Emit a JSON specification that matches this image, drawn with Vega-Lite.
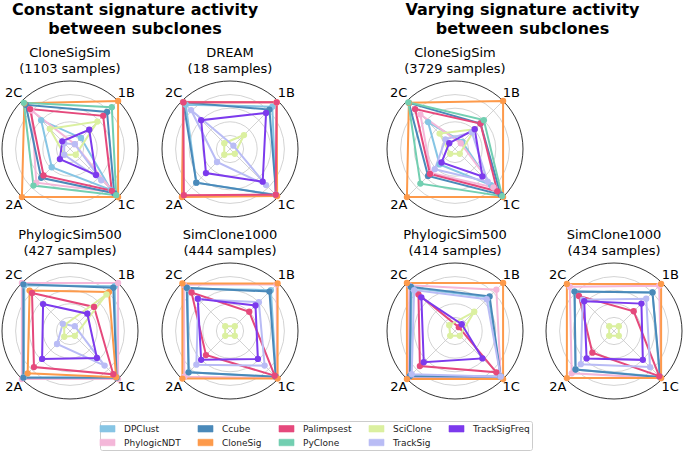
{
"$schema":"https://vega.github.io/schema/vega-lite/v6.json",
"background":"white",
"padding":{"left":0,"top":2,"right":0,"bottom":0},
"config":{"view":{"stroke":null},"font":"DejaVu Sans",
 "title":{"font":"DejaVu Sans","fontSize":13,"fontWeight":"normal","color":"#000000","anchor":"middle","lineHeight":16,"offset":3}},
"datasets":{
"rings":[{"r":0.2},{"r":0.4},{"r":0.6},{"r":0.8},{"r":1}],
"axes":[{"axis":"2C"},{"axis":"1B"},{"axis":"1C"},{"axis":"2A"}],
"scores":[
{"panel":"A","method":"DPClust","axis":"2C","v":0.60},{"panel":"A","method":"DPClust","axis":"1B","v":0.23},{"panel":"A","method":"DPClust","axis":"1C","v":0.85},{"panel":"A","method":"DPClust","axis":"2A","v":0.38},
{"panel":"A","method":"PhylogicNDT","axis":"2C","v":0.80},{"panel":"A","method":"PhylogicNDT","axis":"1B","v":0.10},{"panel":"A","method":"PhylogicNDT","axis":"1C","v":0.90},{"panel":"A","method":"PhylogicNDT","axis":"2A","v":0.70},
{"panel":"A","method":"Ccube","axis":"2C","v":0.92},{"panel":"A","method":"Ccube","axis":"1B","v":0.77},{"panel":"A","method":"Ccube","axis":"1C","v":0.92},{"panel":"A","method":"Ccube","axis":"2A","v":0.60},
{"panel":"A","method":"CloneSig","axis":"2C","v":0.95},{"panel":"A","method":"CloneSig","axis":"1B","v":1.0},{"panel":"A","method":"CloneSig","axis":"1C","v":1.0},{"panel":"A","method":"CloneSig","axis":"2A","v":1.0},
{"panel":"A","method":"Palimpsest","axis":"2C","v":0.83},{"panel":"A","method":"Palimpsest","axis":"1B","v":0.69},{"panel":"A","method":"Palimpsest","axis":"1C","v":0.87},{"panel":"A","method":"Palimpsest","axis":"2A","v":0.55},
{"panel":"A","method":"PyClone","axis":"2C","v":0.96},{"panel":"A","method":"PyClone","axis":"1B","v":0.87},{"panel":"A","method":"PyClone","axis":"1C","v":0.96},{"panel":"A","method":"PyClone","axis":"2A","v":0.76},
{"panel":"A","method":"SciClone","axis":"2C","v":0.42},{"panel":"A","method":"SciClone","axis":"1B","v":0.57},{"panel":"A","method":"SciClone","axis":"1C","v":0.12},{"panel":"A","method":"SciClone","axis":"2A","v":0.12},
{"panel":"A","method":"TrackSig","axis":"2C","v":0.12},{"panel":"A","method":"TrackSig","axis":"1B","v":0.10},{"panel":"A","method":"TrackSig","axis":"1C","v":0.65},{"panel":"A","method":"TrackSig","axis":"2A","v":0.12},
{"panel":"A","method":"TrackSigFreq","axis":"2C","v":0.16},{"panel":"A","method":"TrackSigFreq","axis":"1B","v":0.40},{"panel":"A","method":"TrackSigFreq","axis":"1C","v":0.54},{"panel":"A","method":"TrackSigFreq","axis":"2A","v":0.21},
{"panel":"B","method":"DPClust","axis":"2C","v":0.92},{"panel":"B","method":"DPClust","axis":"1B","v":0.88},{"panel":"B","method":"DPClust","axis":"1C","v":0.95},{"panel":"B","method":"DPClust","axis":"2A","v":0.70},
{"panel":"B","method":"PhylogicNDT","axis":"2C","v":0.98},{"panel":"B","method":"PhylogicNDT","axis":"1B","v":0.97},{"panel":"B","method":"PhylogicNDT","axis":"1C","v":0.97},{"panel":"B","method":"PhylogicNDT","axis":"2A","v":0.99},
{"panel":"B","method":"Ccube","axis":"2C","v":0.97},{"panel":"B","method":"Ccube","axis":"1B","v":0.82},{"panel":"B","method":"Ccube","axis":"1C","v":0.96},{"panel":"B","method":"Ccube","axis":"2A","v":0.70},
{"panel":"B","method":"CloneSig","axis":"2C","v":0.97},{"panel":"B","method":"CloneSig","axis":"1B","v":0.97},{"panel":"B","method":"CloneSig","axis":"1C","v":0.98},{"panel":"B","method":"CloneSig","axis":"2A","v":1.0},
{"panel":"B","method":"Palimpsest","axis":"2C","v":0.97},{"panel":"B","method":"Palimpsest","axis":"1B","v":0.97},{"panel":"B","method":"Palimpsest","axis":"1C","v":0.95},{"panel":"B","method":"Palimpsest","axis":"2A","v":0.96},
{"panel":"B","method":"SciClone","axis":"2C","v":0.12},{"panel":"B","method":"SciClone","axis":"1B","v":0.29},{"panel":"B","method":"SciClone","axis":"1C","v":0.10},{"panel":"B","method":"SciClone","axis":"2A","v":0.12},
{"panel":"B","method":"TrackSig","axis":"2C","v":0.81},{"panel":"B","method":"TrackSig","axis":"1B","v":0.07},{"panel":"B","method":"TrackSig","axis":"1C","v":0.75},{"panel":"B","method":"TrackSig","axis":"2A","v":0.27},
{"panel":"B","method":"TrackSigFreq","axis":"2C","v":0.60},{"panel":"B","method":"TrackSigFreq","axis":"1B","v":0.75},{"panel":"B","method":"TrackSigFreq","axis":"1C","v":0.68},{"panel":"B","method":"TrackSigFreq","axis":"2A","v":0.50},
{"panel":"C","method":"DPClust","axis":"2C","v":0.95},{"panel":"C","method":"DPClust","axis":"1B","v":0.93},{"panel":"C","method":"DPClust","axis":"1C","v":0.97},{"panel":"C","method":"DPClust","axis":"2A","v":0.96},
{"panel":"C","method":"PhylogicNDT","axis":"2C","v":1.0},{"panel":"C","method":"PhylogicNDT","axis":"1B","v":1.0},{"panel":"C","method":"PhylogicNDT","axis":"1C","v":1.0},{"panel":"C","method":"PhylogicNDT","axis":"2A","v":1.0},
{"panel":"C","method":"Ccube","axis":"2C","v":0.97},{"panel":"C","method":"Ccube","axis":"1B","v":0.90},{"panel":"C","method":"Ccube","axis":"1C","v":0.97},{"panel":"C","method":"Ccube","axis":"2A","v":0.97},
{"panel":"C","method":"CloneSig","axis":"2C","v":0.84},{"panel":"C","method":"CloneSig","axis":"1B","v":0.81},{"panel":"C","method":"CloneSig","axis":"1C","v":0.96},{"panel":"C","method":"CloneSig","axis":"2A","v":0.88},
{"panel":"C","method":"Palimpsest","axis":"2C","v":0.79},{"panel":"C","method":"Palimpsest","axis":"1B","v":0.50},{"panel":"C","method":"Palimpsest","axis":"1C","v":0.90},{"panel":"C","method":"Palimpsest","axis":"2A","v":0.75},
{"panel":"C","method":"SciClone","axis":"2C","v":0.12},{"panel":"C","method":"SciClone","axis":"1B","v":0.76},{"panel":"C","method":"SciClone","axis":"1C","v":0.10},{"panel":"C","method":"SciClone","axis":"2A","v":0.12},
{"panel":"C","method":"TrackSig","axis":"2C","v":0.15},{"panel":"C","method":"TrackSig","axis":"1B","v":0.10},{"panel":"C","method":"TrackSig","axis":"1C","v":0.72},{"panel":"C","method":"TrackSig","axis":"2A","v":0.27},
{"panel":"C","method":"TrackSigFreq","axis":"2C","v":0.56},{"panel":"C","method":"TrackSigFreq","axis":"1B","v":0.36},{"panel":"C","method":"TrackSigFreq","axis":"1C","v":0.56},{"panel":"C","method":"TrackSigFreq","axis":"2A","v":0.58},
{"panel":"D","method":"DPClust","axis":"2C","v":0.88},{"panel":"D","method":"DPClust","axis":"1B","v":0.85},{"panel":"D","method":"DPClust","axis":"1C","v":0.96},{"panel":"D","method":"DPClust","axis":"2A","v":0.86},
{"panel":"D","method":"PhylogicNDT","axis":"2C","v":0.96},{"panel":"D","method":"PhylogicNDT","axis":"1B","v":0.97},{"panel":"D","method":"PhylogicNDT","axis":"1C","v":0.98},{"panel":"D","method":"PhylogicNDT","axis":"2A","v":0.95},
{"panel":"D","method":"Ccube","axis":"2C","v":0.90},{"panel":"D","method":"Ccube","axis":"1B","v":0.82},{"panel":"D","method":"Ccube","axis":"1C","v":0.95},{"panel":"D","method":"Ccube","axis":"2A","v":0.86},
{"panel":"D","method":"CloneSig","axis":"2C","v":0.99},{"panel":"D","method":"CloneSig","axis":"1B","v":0.99},{"panel":"D","method":"CloneSig","axis":"1C","v":0.99},{"panel":"D","method":"CloneSig","axis":"2A","v":0.99},
{"panel":"D","method":"Palimpsest","axis":"2C","v":0.80},{"panel":"D","method":"Palimpsest","axis":"1B","v":0.40},{"panel":"D","method":"Palimpsest","axis":"1C","v":0.93},{"panel":"D","method":"Palimpsest","axis":"2A","v":0.50},
{"panel":"D","method":"SciClone","axis":"2C","v":0.10},{"panel":"D","method":"SciClone","axis":"1B","v":0.10},{"panel":"D","method":"SciClone","axis":"1C","v":0.10},{"panel":"D","method":"SciClone","axis":"2A","v":0.10},
{"panel":"D","method":"TrackSig","axis":"2C","v":0.66},{"panel":"D","method":"TrackSig","axis":"1B","v":0.60},{"panel":"D","method":"TrackSig","axis":"1C","v":0.72},{"panel":"D","method":"TrackSig","axis":"2A","v":0.70},
{"panel":"D","method":"TrackSigFreq","axis":"2C","v":0.67},{"panel":"D","method":"TrackSigFreq","axis":"1B","v":0.53},{"panel":"D","method":"TrackSigFreq","axis":"1C","v":0.58},{"panel":"D","method":"TrackSigFreq","axis":"2A","v":0.60},
{"panel":"E","method":"DPClust","axis":"2C","v":0.56},{"panel":"E","method":"DPClust","axis":"1B","v":0.15},{"panel":"E","method":"DPClust","axis":"1C","v":0.75},{"panel":"E","method":"DPClust","axis":"2A","v":0.32},
{"panel":"E","method":"PhylogicNDT","axis":"2C","v":0.72},{"panel":"E","method":"PhylogicNDT","axis":"1B","v":0.12},{"panel":"E","method":"PhylogicNDT","axis":"1C","v":0.80},{"panel":"E","method":"PhylogicNDT","axis":"2A","v":0.50},
{"panel":"E","method":"Ccube","axis":"2C","v":0.96},{"panel":"E","method":"Ccube","axis":"1B","v":0.53},{"panel":"E","method":"Ccube","axis":"1C","v":0.95},{"panel":"E","method":"Ccube","axis":"2A","v":0.56},
{"panel":"E","method":"CloneSig","axis":"2C","v":0.96},{"panel":"E","method":"CloneSig","axis":"1B","v":1.0},{"panel":"E","method":"CloneSig","axis":"1C","v":1.0},{"panel":"E","method":"CloneSig","axis":"2A","v":1.0},
{"panel":"E","method":"Palimpsest","axis":"2C","v":0.83},{"panel":"E","method":"Palimpsest","axis":"1B","v":0.53},{"panel":"E","method":"Palimpsest","axis":"1C","v":0.88},{"panel":"E","method":"Palimpsest","axis":"2A","v":0.52},
{"panel":"E","method":"PyClone","axis":"2C","v":0.97},{"panel":"E","method":"PyClone","axis":"1B","v":0.60},{"panel":"E","method":"PyClone","axis":"1C","v":0.98},{"panel":"E","method":"PyClone","axis":"2A","v":0.72},
{"panel":"E","method":"SciClone","axis":"2C","v":0.32},{"panel":"E","method":"SciClone","axis":"1B","v":0.41},{"panel":"E","method":"SciClone","axis":"1C","v":0.10},{"panel":"E","method":"SciClone","axis":"2A","v":0.10},
{"panel":"E","method":"TrackSig","axis":"2C","v":0.20},{"panel":"E","method":"TrackSig","axis":"1B","v":0.35},{"panel":"E","method":"TrackSig","axis":"1C","v":0.68},{"panel":"E","method":"TrackSig","axis":"2A","v":0.42},
{"panel":"E","method":"TrackSigFreq","axis":"2C","v":0.12},{"panel":"E","method":"TrackSigFreq","axis":"1B","v":0.41},{"panel":"E","method":"TrackSigFreq","axis":"1C","v":0.57},{"panel":"E","method":"TrackSigFreq","axis":"2A","v":0.28},
{"panel":"F","method":"DPClust","axis":"2C","v":0.90},{"panel":"F","method":"DPClust","axis":"1B","v":0.70},{"panel":"F","method":"DPClust","axis":"1C","v":0.95},{"panel":"F","method":"DPClust","axis":"2A","v":0.93},
{"panel":"F","method":"PhylogicNDT","axis":"2C","v":0.95},{"panel":"F","method":"PhylogicNDT","axis":"1B","v":0.86},{"panel":"F","method":"PhylogicNDT","axis":"1C","v":0.95},{"panel":"F","method":"PhylogicNDT","axis":"2A","v":0.97},
{"panel":"F","method":"Ccube","axis":"2C","v":0.92},{"panel":"F","method":"Ccube","axis":"1B","v":0.72},{"panel":"F","method":"Ccube","axis":"1C","v":0.95},{"panel":"F","method":"Ccube","axis":"2A","v":0.94},
{"panel":"F","method":"CloneSig","axis":"2C","v":1.0},{"panel":"F","method":"CloneSig","axis":"1B","v":1.0},{"panel":"F","method":"CloneSig","axis":"1C","v":1.0},{"panel":"F","method":"CloneSig","axis":"2A","v":1.0},
{"panel":"F","method":"Palimpsest","axis":"2C","v":0.76},{"panel":"F","method":"Palimpsest","axis":"1B","v":0.08},{"panel":"F","method":"Palimpsest","axis":"1C","v":0.86},{"panel":"F","method":"Palimpsest","axis":"2A","v":0.73},
{"panel":"F","method":"SciClone","axis":"2C","v":0.12},{"panel":"F","method":"SciClone","axis":"1B","v":0.40},{"panel":"F","method":"SciClone","axis":"1C","v":0.10},{"panel":"F","method":"SciClone","axis":"2A","v":0.10},
{"panel":"F","method":"TrackSig","axis":"2C","v":0.85},{"panel":"F","method":"TrackSig","axis":"1B","v":0.66},{"panel":"F","method":"TrackSig","axis":"1C","v":0.95},{"panel":"F","method":"TrackSig","axis":"2A","v":0.90},
{"panel":"F","method":"TrackSigFreq","axis":"2C","v":0.70},{"panel":"F","method":"TrackSigFreq","axis":"1B","v":0.14},{"panel":"F","method":"TrackSigFreq","axis":"1C","v":0.57},{"panel":"F","method":"TrackSigFreq","axis":"2A","v":0.65},
{"panel":"G","method":"DPClust","axis":"2C","v":0.82},{"panel":"G","method":"DPClust","axis":"1B","v":0.80},{"panel":"G","method":"DPClust","axis":"1C","v":0.95},{"panel":"G","method":"DPClust","axis":"2A","v":0.80},
{"panel":"G","method":"PhylogicNDT","axis":"2C","v":0.92},{"panel":"G","method":"PhylogicNDT","axis":"1B","v":0.94},{"panel":"G","method":"PhylogicNDT","axis":"1C","v":0.98},{"panel":"G","method":"PhylogicNDT","axis":"2A","v":0.88},
{"panel":"G","method":"Ccube","axis":"2C","v":0.82},{"panel":"G","method":"Ccube","axis":"1B","v":0.80},{"panel":"G","method":"Ccube","axis":"1C","v":0.96},{"panel":"G","method":"Ccube","axis":"2A","v":0.80},
{"panel":"G","method":"CloneSig","axis":"2C","v":0.98},{"panel":"G","method":"CloneSig","axis":"1B","v":0.98},{"panel":"G","method":"CloneSig","axis":"1C","v":0.98},{"panel":"G","method":"CloneSig","axis":"2A","v":0.98},
{"panel":"G","method":"Palimpsest","axis":"2C","v":0.73},{"panel":"G","method":"Palimpsest","axis":"1B","v":0.41},{"panel":"G","method":"Palimpsest","axis":"1C","v":0.94},{"panel":"G","method":"Palimpsest","axis":"2A","v":0.45},
{"panel":"G","method":"SciClone","axis":"2C","v":0.10},{"panel":"G","method":"SciClone","axis":"1B","v":0.10},{"panel":"G","method":"SciClone","axis":"1C","v":0.10},{"panel":"G","method":"SciClone","axis":"2A","v":0.10},
{"panel":"G","method":"TrackSig","axis":"2C","v":0.65},{"panel":"G","method":"TrackSig","axis":"1B","v":0.67},{"panel":"G","method":"TrackSig","axis":"1C","v":0.75},{"panel":"G","method":"TrackSig","axis":"2A","v":0.69},
{"panel":"G","method":"TrackSigFreq","axis":"2C","v":0.62},{"panel":"G","method":"TrackSigFreq","axis":"1B","v":0.57},{"panel":"G","method":"TrackSigFreq","axis":"1C","v":0.60},{"panel":"G","method":"TrackSigFreq","axis":"2A","v":0.57}
]},
"spacing":85,
"hconcat":[
{"title":{"text":["Constant signature activity","between subclones"],"fontSize":16,"fontWeight":"bold","lineHeight":19,"anchor":"middle","dx":-15,"offset":10},
 "spacing":10,
 "vconcat":[
 {"spacing":20,"hconcat":[
  {"width":136,"height":136,"title":{"text":["CloneSigSim","(1103 samples)"]},"layer":[
   {"data":{"name":"rings"},"mark":{"type":"point","shape":"circle","filled":false,"strokeWidth":0.8,"opacity":1},"encoding":{"x":{"datum":0,"type":"quantitative","scale":{"domain":[-1.4142,1.4142],"nice":false,"zero":false},"axis":null},"y":{"datum":0,"type":"quantitative","scale":{"domain":[-1.4142,1.4142],"nice":false,"zero":false},"axis":null},"size":{"field":"r","type":"quantitative","scale":{"type":"pow","exponent":2,"domain":[0,1],"range":[0,18496]},"legend":null},"stroke":{"condition":{"test":"datum.r >= 1","value":"#000000"},"value":"#c8c8c8"}}},
   {"data":{"name":"axes"},"transform":[{"calculate":"(datum.axis=='1B'||datum.axis=='1C')?1:-1","as":"sx"},{"calculate":"(datum.axis=='2C'||datum.axis=='1B')?1:-1","as":"sy"}],"mark":{"type":"rule","color":"#c8c8c8","strokeWidth":0.8},"encoding":{"x":{"field":"sx","type":"quantitative"},"y":{"field":"sy","type":"quantitative"},"x2":{"datum":0},"y2":{"datum":0}}},
   {"data":{"name":"scores"},"transform":[{"filter":"datum.panel=='A'"},{"calculate":"(datum.axis=='1B'||datum.axis=='1C')?datum.v:-datum.v","as":"x"},{"calculate":"(datum.axis=='2C'||datum.axis=='1B')?datum.v:-datum.v","as":"y"}],"mark":{"type":"line","interpolate":"linear-closed","strokeWidth":2},"encoding":{"x":{"field":"x","type":"quantitative"},"y":{"field":"y","type":"quantitative"},"order":{"field":"axis","type":"ordinal"},"color":{"field":"method","type":"nominal","title":null,"scale":{"domain":["DPClust","Ccube","Palimpsest","SciClone","TrackSigFreq","PhylogicNDT","CloneSig","PyClone","TrackSig"],"range":["#86c5e4","#4a89b9","#e5497c","#dbf0a0","#7c3aed","#f4b7d9","#fd9a4b","#72cfb1","#b9bcf5"]},"legend":{"orient":"none","legendX":98,"legendY":340,"direction":"horizontal","columns":5,"labelFontSize":9,"labelFont":"DejaVu Sans","labelColor":"#222222","symbolType":"M-1.5,-0.65H1.5V0.65H-1.5Z","symbolSize":100,"symbolStrokeColor":"#555555","symbolStrokeWidth":0.6,"symbolOpacity":1,"columnPadding":15,"rowPadding":3,"labelOffset":11,"strokeColor":"#cccccc","padding":2,"cornerRadius":2,"fillColor":"#ffffff"}}}},
   {"data":{"name":"scores"},"transform":[{"filter":"datum.panel=='A'"},{"calculate":"(datum.axis=='1B'||datum.axis=='1C')?datum.v:-datum.v","as":"x"},{"calculate":"(datum.axis=='2C'||datum.axis=='1B')?datum.v:-datum.v","as":"y"}],"mark":{"type":"circle","size":40,"opacity":1},"encoding":{"x":{"field":"x","type":"quantitative"},"y":{"field":"y","type":"quantitative"},"color":{"field":"method","type":"nominal","title":null,"scale":{"domain":["DPClust","Ccube","Palimpsest","SciClone","TrackSigFreq","PhylogicNDT","CloneSig","PyClone","TrackSig"],"range":["#86c5e4","#4a89b9","#e5497c","#dbf0a0","#7c3aed","#f4b7d9","#fd9a4b","#72cfb1","#b9bcf5"]}}}},
   {"data":{"name":"axes"},"transform":[{"calculate":"((datum.axis=='1B'||datum.axis=='1C')?1:-1)*1.17","as":"lx"},{"calculate":"((datum.axis=='2C'||datum.axis=='1B')?1:-1)*1.17","as":"ly"}],"mark":{"type":"text","fontSize":13,"align":"center","baseline":"middle","color":"#000000"},"encoding":{"x":{"field":"lx","type":"quantitative"},"y":{"field":"ly","type":"quantitative"},"text":{"field":"axis","type":"nominal"}}}
  ]},
  {"width":136,"height":136,"title":{"text":["DREAM","(18 samples)"]},"layer":[
   {"data":{"name":"rings"},"mark":{"type":"point","shape":"circle","filled":false,"strokeWidth":0.8,"opacity":1},"encoding":{"x":{"datum":0,"type":"quantitative","scale":{"domain":[-1.4142,1.4142],"nice":false,"zero":false},"axis":null},"y":{"datum":0,"type":"quantitative","scale":{"domain":[-1.4142,1.4142],"nice":false,"zero":false},"axis":null},"size":{"field":"r","type":"quantitative","scale":{"type":"pow","exponent":2,"domain":[0,1],"range":[0,18496]},"legend":null},"stroke":{"condition":{"test":"datum.r >= 1","value":"#000000"},"value":"#c8c8c8"}}},
   {"data":{"name":"axes"},"transform":[{"calculate":"(datum.axis=='1B'||datum.axis=='1C')?1:-1","as":"sx"},{"calculate":"(datum.axis=='2C'||datum.axis=='1B')?1:-1","as":"sy"}],"mark":{"type":"rule","color":"#c8c8c8","strokeWidth":0.8},"encoding":{"x":{"field":"sx","type":"quantitative"},"y":{"field":"sy","type":"quantitative"},"x2":{"datum":0},"y2":{"datum":0}}},
   {"data":{"name":"scores"},"transform":[{"filter":"datum.panel=='B'"},{"calculate":"(datum.axis=='1B'||datum.axis=='1C')?datum.v:-datum.v","as":"x"},{"calculate":"(datum.axis=='2C'||datum.axis=='1B')?datum.v:-datum.v","as":"y"}],"mark":{"type":"line","interpolate":"linear-closed","strokeWidth":2},"encoding":{"x":{"field":"x","type":"quantitative"},"y":{"field":"y","type":"quantitative"},"order":{"field":"axis","type":"ordinal"},"color":{"field":"method","type":"nominal","title":null,"scale":{"domain":["DPClust","Ccube","Palimpsest","SciClone","TrackSigFreq","PhylogicNDT","CloneSig","PyClone","TrackSig"],"range":["#86c5e4","#4a89b9","#e5497c","#dbf0a0","#7c3aed","#f4b7d9","#fd9a4b","#72cfb1","#b9bcf5"]}}}},
   {"data":{"name":"scores"},"transform":[{"filter":"datum.panel=='B'"},{"calculate":"(datum.axis=='1B'||datum.axis=='1C')?datum.v:-datum.v","as":"x"},{"calculate":"(datum.axis=='2C'||datum.axis=='1B')?datum.v:-datum.v","as":"y"}],"mark":{"type":"circle","size":40,"opacity":1},"encoding":{"x":{"field":"x","type":"quantitative"},"y":{"field":"y","type":"quantitative"},"color":{"field":"method","type":"nominal","title":null,"scale":{"domain":["DPClust","Ccube","Palimpsest","SciClone","TrackSigFreq","PhylogicNDT","CloneSig","PyClone","TrackSig"],"range":["#86c5e4","#4a89b9","#e5497c","#dbf0a0","#7c3aed","#f4b7d9","#fd9a4b","#72cfb1","#b9bcf5"]}}}},
   {"data":{"name":"axes"},"transform":[{"calculate":"((datum.axis=='1B'||datum.axis=='1C')?1:-1)*1.17","as":"lx"},{"calculate":"((datum.axis=='2C'||datum.axis=='1B')?1:-1)*1.17","as":"ly"}],"mark":{"type":"text","fontSize":13,"align":"center","baseline":"middle","color":"#000000"},"encoding":{"x":{"field":"lx","type":"quantitative"},"y":{"field":"ly","type":"quantitative"},"text":{"field":"axis","type":"nominal"}}}
  ]}
 ]},
 {"spacing":20,"hconcat":[
  {"width":136,"height":136,"title":{"text":["PhylogicSim500","(427 samples)"]},"layer":[
   {"data":{"name":"rings"},"mark":{"type":"point","shape":"circle","filled":false,"strokeWidth":0.8,"opacity":1},"encoding":{"x":{"datum":0,"type":"quantitative","scale":{"domain":[-1.4142,1.4142],"nice":false,"zero":false},"axis":null},"y":{"datum":0,"type":"quantitative","scale":{"domain":[-1.4142,1.4142],"nice":false,"zero":false},"axis":null},"size":{"field":"r","type":"quantitative","scale":{"type":"pow","exponent":2,"domain":[0,1],"range":[0,18496]},"legend":null},"stroke":{"condition":{"test":"datum.r >= 1","value":"#000000"},"value":"#c8c8c8"}}},
   {"data":{"name":"axes"},"transform":[{"calculate":"(datum.axis=='1B'||datum.axis=='1C')?1:-1","as":"sx"},{"calculate":"(datum.axis=='2C'||datum.axis=='1B')?1:-1","as":"sy"}],"mark":{"type":"rule","color":"#c8c8c8","strokeWidth":0.8},"encoding":{"x":{"field":"sx","type":"quantitative"},"y":{"field":"sy","type":"quantitative"},"x2":{"datum":0},"y2":{"datum":0}}},
   {"data":{"name":"scores"},"transform":[{"filter":"datum.panel=='C'"},{"calculate":"(datum.axis=='1B'||datum.axis=='1C')?datum.v:-datum.v","as":"x"},{"calculate":"(datum.axis=='2C'||datum.axis=='1B')?datum.v:-datum.v","as":"y"}],"mark":{"type":"line","interpolate":"linear-closed","strokeWidth":2},"encoding":{"x":{"field":"x","type":"quantitative"},"y":{"field":"y","type":"quantitative"},"order":{"field":"axis","type":"ordinal"},"color":{"field":"method","type":"nominal","title":null,"scale":{"domain":["DPClust","Ccube","Palimpsest","SciClone","TrackSigFreq","PhylogicNDT","CloneSig","PyClone","TrackSig"],"range":["#86c5e4","#4a89b9","#e5497c","#dbf0a0","#7c3aed","#f4b7d9","#fd9a4b","#72cfb1","#b9bcf5"]}}}},
   {"data":{"name":"scores"},"transform":[{"filter":"datum.panel=='C'"},{"calculate":"(datum.axis=='1B'||datum.axis=='1C')?datum.v:-datum.v","as":"x"},{"calculate":"(datum.axis=='2C'||datum.axis=='1B')?datum.v:-datum.v","as":"y"}],"mark":{"type":"circle","size":40,"opacity":1},"encoding":{"x":{"field":"x","type":"quantitative"},"y":{"field":"y","type":"quantitative"},"color":{"field":"method","type":"nominal","title":null,"scale":{"domain":["DPClust","Ccube","Palimpsest","SciClone","TrackSigFreq","PhylogicNDT","CloneSig","PyClone","TrackSig"],"range":["#86c5e4","#4a89b9","#e5497c","#dbf0a0","#7c3aed","#f4b7d9","#fd9a4b","#72cfb1","#b9bcf5"]}}}},
   {"data":{"name":"axes"},"transform":[{"calculate":"((datum.axis=='1B'||datum.axis=='1C')?1:-1)*1.17","as":"lx"},{"calculate":"((datum.axis=='2C'||datum.axis=='1B')?1:-1)*1.17","as":"ly"}],"mark":{"type":"text","fontSize":13,"align":"center","baseline":"middle","color":"#000000"},"encoding":{"x":{"field":"lx","type":"quantitative"},"y":{"field":"ly","type":"quantitative"},"text":{"field":"axis","type":"nominal"}}}
  ]},
  {"width":136,"height":136,"title":{"text":["SimClone1000","(444 samples)"]},"layer":[
   {"data":{"name":"rings"},"mark":{"type":"point","shape":"circle","filled":false,"strokeWidth":0.8,"opacity":1},"encoding":{"x":{"datum":0,"type":"quantitative","scale":{"domain":[-1.4142,1.4142],"nice":false,"zero":false},"axis":null},"y":{"datum":0,"type":"quantitative","scale":{"domain":[-1.4142,1.4142],"nice":false,"zero":false},"axis":null},"size":{"field":"r","type":"quantitative","scale":{"type":"pow","exponent":2,"domain":[0,1],"range":[0,18496]},"legend":null},"stroke":{"condition":{"test":"datum.r >= 1","value":"#000000"},"value":"#c8c8c8"}}},
   {"data":{"name":"axes"},"transform":[{"calculate":"(datum.axis=='1B'||datum.axis=='1C')?1:-1","as":"sx"},{"calculate":"(datum.axis=='2C'||datum.axis=='1B')?1:-1","as":"sy"}],"mark":{"type":"rule","color":"#c8c8c8","strokeWidth":0.8},"encoding":{"x":{"field":"sx","type":"quantitative"},"y":{"field":"sy","type":"quantitative"},"x2":{"datum":0},"y2":{"datum":0}}},
   {"data":{"name":"scores"},"transform":[{"filter":"datum.panel=='D'"},{"calculate":"(datum.axis=='1B'||datum.axis=='1C')?datum.v:-datum.v","as":"x"},{"calculate":"(datum.axis=='2C'||datum.axis=='1B')?datum.v:-datum.v","as":"y"}],"mark":{"type":"line","interpolate":"linear-closed","strokeWidth":2},"encoding":{"x":{"field":"x","type":"quantitative"},"y":{"field":"y","type":"quantitative"},"order":{"field":"axis","type":"ordinal"},"color":{"field":"method","type":"nominal","title":null,"scale":{"domain":["DPClust","Ccube","Palimpsest","SciClone","TrackSigFreq","PhylogicNDT","CloneSig","PyClone","TrackSig"],"range":["#86c5e4","#4a89b9","#e5497c","#dbf0a0","#7c3aed","#f4b7d9","#fd9a4b","#72cfb1","#b9bcf5"]}}}},
   {"data":{"name":"scores"},"transform":[{"filter":"datum.panel=='D'"},{"calculate":"(datum.axis=='1B'||datum.axis=='1C')?datum.v:-datum.v","as":"x"},{"calculate":"(datum.axis=='2C'||datum.axis=='1B')?datum.v:-datum.v","as":"y"}],"mark":{"type":"circle","size":40,"opacity":1},"encoding":{"x":{"field":"x","type":"quantitative"},"y":{"field":"y","type":"quantitative"},"color":{"field":"method","type":"nominal","title":null,"scale":{"domain":["DPClust","Ccube","Palimpsest","SciClone","TrackSigFreq","PhylogicNDT","CloneSig","PyClone","TrackSig"],"range":["#86c5e4","#4a89b9","#e5497c","#dbf0a0","#7c3aed","#f4b7d9","#fd9a4b","#72cfb1","#b9bcf5"]}}}},
   {"data":{"name":"axes"},"transform":[{"calculate":"((datum.axis=='1B'||datum.axis=='1C')?1:-1)*1.17","as":"lx"},{"calculate":"((datum.axis=='2C'||datum.axis=='1B')?1:-1)*1.17","as":"ly"}],"mark":{"type":"text","fontSize":13,"align":"center","baseline":"middle","color":"#000000"},"encoding":{"x":{"field":"lx","type":"quantitative"},"y":{"field":"ly","type":"quantitative"},"text":{"field":"axis","type":"nominal"}}}
  ]}
 ]}
 ]},
{"title":{"text":["Varying signature activity","between subclones"],"fontSize":16,"fontWeight":"bold","lineHeight":19,"anchor":"middle","dx":-12,"offset":10},
 "spacing":10,
 "vconcat":[
  {"width":136,"height":136,"title":{"text":["CloneSigSim","(3729 samples)"]},"layer":[
   {"data":{"name":"rings"},"mark":{"type":"point","shape":"circle","filled":false,"strokeWidth":0.8,"opacity":1},"encoding":{"x":{"datum":0,"type":"quantitative","scale":{"domain":[-1.4142,1.4142],"nice":false,"zero":false},"axis":null},"y":{"datum":0,"type":"quantitative","scale":{"domain":[-1.4142,1.4142],"nice":false,"zero":false},"axis":null},"size":{"field":"r","type":"quantitative","scale":{"type":"pow","exponent":2,"domain":[0,1],"range":[0,18496]},"legend":null},"stroke":{"condition":{"test":"datum.r >= 1","value":"#000000"},"value":"#c8c8c8"}}},
   {"data":{"name":"axes"},"transform":[{"calculate":"(datum.axis=='1B'||datum.axis=='1C')?1:-1","as":"sx"},{"calculate":"(datum.axis=='2C'||datum.axis=='1B')?1:-1","as":"sy"}],"mark":{"type":"rule","color":"#c8c8c8","strokeWidth":0.8},"encoding":{"x":{"field":"sx","type":"quantitative"},"y":{"field":"sy","type":"quantitative"},"x2":{"datum":0},"y2":{"datum":0}}},
   {"data":{"name":"scores"},"transform":[{"filter":"datum.panel=='E'"},{"calculate":"(datum.axis=='1B'||datum.axis=='1C')?datum.v:-datum.v","as":"x"},{"calculate":"(datum.axis=='2C'||datum.axis=='1B')?datum.v:-datum.v","as":"y"}],"mark":{"type":"line","interpolate":"linear-closed","strokeWidth":2},"encoding":{"x":{"field":"x","type":"quantitative"},"y":{"field":"y","type":"quantitative"},"order":{"field":"axis","type":"ordinal"},"color":{"field":"method","type":"nominal","title":null,"scale":{"domain":["DPClust","Ccube","Palimpsest","SciClone","TrackSigFreq","PhylogicNDT","CloneSig","PyClone","TrackSig"],"range":["#86c5e4","#4a89b9","#e5497c","#dbf0a0","#7c3aed","#f4b7d9","#fd9a4b","#72cfb1","#b9bcf5"]}}}},
   {"data":{"name":"scores"},"transform":[{"filter":"datum.panel=='E'"},{"calculate":"(datum.axis=='1B'||datum.axis=='1C')?datum.v:-datum.v","as":"x"},{"calculate":"(datum.axis=='2C'||datum.axis=='1B')?datum.v:-datum.v","as":"y"}],"mark":{"type":"circle","size":40,"opacity":1},"encoding":{"x":{"field":"x","type":"quantitative"},"y":{"field":"y","type":"quantitative"},"color":{"field":"method","type":"nominal","title":null,"scale":{"domain":["DPClust","Ccube","Palimpsest","SciClone","TrackSigFreq","PhylogicNDT","CloneSig","PyClone","TrackSig"],"range":["#86c5e4","#4a89b9","#e5497c","#dbf0a0","#7c3aed","#f4b7d9","#fd9a4b","#72cfb1","#b9bcf5"]}}}},
   {"data":{"name":"axes"},"transform":[{"calculate":"((datum.axis=='1B'||datum.axis=='1C')?1:-1)*1.17","as":"lx"},{"calculate":"((datum.axis=='2C'||datum.axis=='1B')?1:-1)*1.17","as":"ly"}],"mark":{"type":"text","fontSize":13,"align":"center","baseline":"middle","color":"#000000"},"encoding":{"x":{"field":"lx","type":"quantitative"},"y":{"field":"ly","type":"quantitative"},"text":{"field":"axis","type":"nominal"}}}
  ]},
 {"spacing":19,"hconcat":[
  {"width":136,"height":136,"title":{"text":["PhylogicSim500","(414 samples)"]},"layer":[
   {"data":{"name":"rings"},"mark":{"type":"point","shape":"circle","filled":false,"strokeWidth":0.8,"opacity":1},"encoding":{"x":{"datum":0,"type":"quantitative","scale":{"domain":[-1.4142,1.4142],"nice":false,"zero":false},"axis":null},"y":{"datum":0,"type":"quantitative","scale":{"domain":[-1.4142,1.4142],"nice":false,"zero":false},"axis":null},"size":{"field":"r","type":"quantitative","scale":{"type":"pow","exponent":2,"domain":[0,1],"range":[0,18496]},"legend":null},"stroke":{"condition":{"test":"datum.r >= 1","value":"#000000"},"value":"#c8c8c8"}}},
   {"data":{"name":"axes"},"transform":[{"calculate":"(datum.axis=='1B'||datum.axis=='1C')?1:-1","as":"sx"},{"calculate":"(datum.axis=='2C'||datum.axis=='1B')?1:-1","as":"sy"}],"mark":{"type":"rule","color":"#c8c8c8","strokeWidth":0.8},"encoding":{"x":{"field":"sx","type":"quantitative"},"y":{"field":"sy","type":"quantitative"},"x2":{"datum":0},"y2":{"datum":0}}},
   {"data":{"name":"scores"},"transform":[{"filter":"datum.panel=='F'"},{"calculate":"(datum.axis=='1B'||datum.axis=='1C')?datum.v:-datum.v","as":"x"},{"calculate":"(datum.axis=='2C'||datum.axis=='1B')?datum.v:-datum.v","as":"y"}],"mark":{"type":"line","interpolate":"linear-closed","strokeWidth":2},"encoding":{"x":{"field":"x","type":"quantitative"},"y":{"field":"y","type":"quantitative"},"order":{"field":"axis","type":"ordinal"},"color":{"field":"method","type":"nominal","title":null,"scale":{"domain":["DPClust","Ccube","Palimpsest","SciClone","TrackSigFreq","PhylogicNDT","CloneSig","PyClone","TrackSig"],"range":["#86c5e4","#4a89b9","#e5497c","#dbf0a0","#7c3aed","#f4b7d9","#fd9a4b","#72cfb1","#b9bcf5"]}}}},
   {"data":{"name":"scores"},"transform":[{"filter":"datum.panel=='F'"},{"calculate":"(datum.axis=='1B'||datum.axis=='1C')?datum.v:-datum.v","as":"x"},{"calculate":"(datum.axis=='2C'||datum.axis=='1B')?datum.v:-datum.v","as":"y"}],"mark":{"type":"circle","size":40,"opacity":1},"encoding":{"x":{"field":"x","type":"quantitative"},"y":{"field":"y","type":"quantitative"},"color":{"field":"method","type":"nominal","title":null,"scale":{"domain":["DPClust","Ccube","Palimpsest","SciClone","TrackSigFreq","PhylogicNDT","CloneSig","PyClone","TrackSig"],"range":["#86c5e4","#4a89b9","#e5497c","#dbf0a0","#7c3aed","#f4b7d9","#fd9a4b","#72cfb1","#b9bcf5"]}}}},
   {"data":{"name":"axes"},"transform":[{"calculate":"((datum.axis=='1B'||datum.axis=='1C')?1:-1)*1.17","as":"lx"},{"calculate":"((datum.axis=='2C'||datum.axis=='1B')?1:-1)*1.17","as":"ly"}],"mark":{"type":"text","fontSize":13,"align":"center","baseline":"middle","color":"#000000"},"encoding":{"x":{"field":"lx","type":"quantitative"},"y":{"field":"ly","type":"quantitative"},"text":{"field":"axis","type":"nominal"}}}
  ]},
  {"width":136,"height":136,"title":{"text":["SimClone1000","(434 samples)"]},"layer":[
   {"data":{"name":"rings"},"mark":{"type":"point","shape":"circle","filled":false,"strokeWidth":0.8,"opacity":1},"encoding":{"x":{"datum":0,"type":"quantitative","scale":{"domain":[-1.4142,1.4142],"nice":false,"zero":false},"axis":null},"y":{"datum":0,"type":"quantitative","scale":{"domain":[-1.4142,1.4142],"nice":false,"zero":false},"axis":null},"size":{"field":"r","type":"quantitative","scale":{"type":"pow","exponent":2,"domain":[0,1],"range":[0,18496]},"legend":null},"stroke":{"condition":{"test":"datum.r >= 1","value":"#000000"},"value":"#c8c8c8"}}},
   {"data":{"name":"axes"},"transform":[{"calculate":"(datum.axis=='1B'||datum.axis=='1C')?1:-1","as":"sx"},{"calculate":"(datum.axis=='2C'||datum.axis=='1B')?1:-1","as":"sy"}],"mark":{"type":"rule","color":"#c8c8c8","strokeWidth":0.8},"encoding":{"x":{"field":"sx","type":"quantitative"},"y":{"field":"sy","type":"quantitative"},"x2":{"datum":0},"y2":{"datum":0}}},
   {"data":{"name":"scores"},"transform":[{"filter":"datum.panel=='G'"},{"calculate":"(datum.axis=='1B'||datum.axis=='1C')?datum.v:-datum.v","as":"x"},{"calculate":"(datum.axis=='2C'||datum.axis=='1B')?datum.v:-datum.v","as":"y"}],"mark":{"type":"line","interpolate":"linear-closed","strokeWidth":2},"encoding":{"x":{"field":"x","type":"quantitative"},"y":{"field":"y","type":"quantitative"},"order":{"field":"axis","type":"ordinal"},"color":{"field":"method","type":"nominal","title":null,"scale":{"domain":["DPClust","Ccube","Palimpsest","SciClone","TrackSigFreq","PhylogicNDT","CloneSig","PyClone","TrackSig"],"range":["#86c5e4","#4a89b9","#e5497c","#dbf0a0","#7c3aed","#f4b7d9","#fd9a4b","#72cfb1","#b9bcf5"]}}}},
   {"data":{"name":"scores"},"transform":[{"filter":"datum.panel=='G'"},{"calculate":"(datum.axis=='1B'||datum.axis=='1C')?datum.v:-datum.v","as":"x"},{"calculate":"(datum.axis=='2C'||datum.axis=='1B')?datum.v:-datum.v","as":"y"}],"mark":{"type":"circle","size":40,"opacity":1},"encoding":{"x":{"field":"x","type":"quantitative"},"y":{"field":"y","type":"quantitative"},"color":{"field":"method","type":"nominal","title":null,"scale":{"domain":["DPClust","Ccube","Palimpsest","SciClone","TrackSigFreq","PhylogicNDT","CloneSig","PyClone","TrackSig"],"range":["#86c5e4","#4a89b9","#e5497c","#dbf0a0","#7c3aed","#f4b7d9","#fd9a4b","#72cfb1","#b9bcf5"]}}}},
   {"data":{"name":"axes"},"transform":[{"calculate":"((datum.axis=='1B'||datum.axis=='1C')?1:-1)*1.17","as":"lx"},{"calculate":"((datum.axis=='2C'||datum.axis=='1B')?1:-1)*1.17","as":"ly"}],"mark":{"type":"text","fontSize":13,"align":"center","baseline":"middle","color":"#000000"},"encoding":{"x":{"field":"lx","type":"quantitative"},"y":{"field":"ly","type":"quantitative"},"text":{"field":"axis","type":"nominal"}}}
  ]}
 ]}
 ]}
]
}
